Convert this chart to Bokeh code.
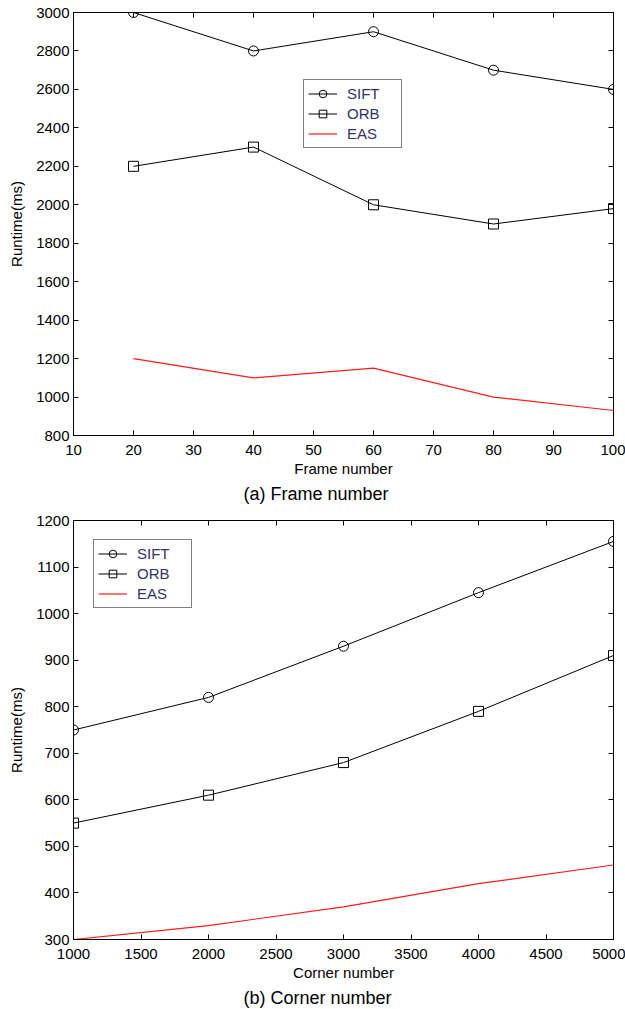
from bokeh.plotting import figure
from bokeh.layouts import column
from bokeh.models import LinearAxis, SingleIntervalTicker, Title, Range1d, Legend, LegendItem
from bokeh.embed import file_html
from bokeh.resources import INLINE

# --- data: (a) Frame number ---
frames = [20, 40, 60, 80, 100]
sift_a = [3000, 2800, 2900, 2700, 2600]
orb_a = [2200, 2300, 2000, 1900, 1980]
eas_a = [1200, 1100, 1150, 1000, 930]

# --- data: (b) Corner number ---
corners = [1000, 2000, 3000, 4000, 5000]
sift_b = [750, 820, 930, 1045, 1155]
orb_b = [550, 610, 680, 790, 910]
eas_b = [300, 330, 370, 420, 460]

FONT = "Liberation Sans"


def style_axis(ax, show_labels=True):
    ax.major_tick_in = 5
    ax.major_tick_out = 0
    ax.minor_tick_in = 0
    ax.minor_tick_out = 0
    ax.axis_line_color = "black"
    ax.major_tick_line_color = "black"
    ax.major_label_text_font = FONT
    ax.axis_label_text_font = FONT
    ax.axis_label_text_font_style = "normal"
    ax.axis_label_text_font_size = "15px"
    ax.axis_label_text_color = "black"
    if show_labels:
        ax.major_label_text_color = "black"
        ax.major_label_text_font_size = "15px"
    else:
        ax.major_label_text_color = None
        ax.major_label_text_alpha = 0
        ax.major_label_text_font_size = "1px"
        ax.major_label_standoff = 0


def make_panel(xs, s, o, e, xr, yr, xint, yint, xlabel, caption, height, top_border,
               legend_loc):
    p = figure(width=625, height=height, output_backend="svg", toolbar_location=None,
               x_range=Range1d(*xr), y_range=Range1d(*yr),
               min_border_left=73, min_border_right=12, min_border_top=top_border,
               min_border_bottom=10)
    p.xgrid.visible = False
    p.ygrid.visible = False
    p.outline_line_color = "black"
    p.background_fill_color = "white"
    p.border_fill_color = "white"

    p.xaxis.ticker = SingleIntervalTicker(interval=xint)
    p.yaxis.ticker = SingleIntervalTicker(interval=yint)
    p.xaxis.axis_label = xlabel
    p.yaxis.axis_label = "Runtime(ms)"
    style_axis(p.xaxis[0])
    style_axis(p.yaxis[0])
    p.xaxis.axis_label_standoff = 2
    p.yaxis.axis_label_standoff = 8
    p.xaxis.major_label_standoff = 9
    p.yaxis.major_label_standoff = 4

    top_ax = LinearAxis(ticker=SingleIntervalTicker(interval=xint))
    style_axis(top_ax, False)
    p.add_layout(top_ax, "above")
    right_ax = LinearAxis(ticker=SingleIntervalTicker(interval=yint))
    style_axis(right_ax, False)
    p.add_layout(right_ax, "right")

    l1 = p.line(xs, s, line_color="black", line_width=1)
    m1 = p.scatter(xs, s, marker="circle", size=10, fill_color=None, line_color="black")
    l2 = p.line(xs, o, line_color="black", line_width=1)
    m2 = p.scatter(xs, o, marker="square", size=10, fill_color=None, line_color="black")
    l3 = p.line(xs, e, line_color="#ff1a1a", line_width=1.2)

    legend = Legend(items=[LegendItem(label="SIFT", renderers=[l1, m1]),
                           LegendItem(label="ORB", renderers=[l2, m2]),
                           LegendItem(label="EAS", renderers=[l3])],
                    location=legend_loc)
    legend.border_line_color = "black"
    legend.border_line_width = 1
    legend.background_fill_color = "white"
    legend.background_fill_alpha = 1
    legend.label_text_font = FONT
    legend.label_text_font_size = "15px"
    legend.label_text_color = "#333366"
    legend.glyph_width = 29
    legend.glyph_height = 19
    legend.label_height = 19
    legend.label_width = 50
    legend.spacing = 1
    legend.padding = 4
    legend.margin = 0
    legend.label_standoff = 10
    p.add_layout(legend, "center")

    cap = Title(text=caption, align="left", text_font=FONT, text_font_size="18px",
                text_font_style="normal", text_color="black", standoff=4, offset=170)
    p.add_layout(cap, "below")
    return p


pa = make_panel(frames, sift_a, orb_a, eas_a, (10, 100), (800, 3000), 10, 200,
                "Frame number", "(a) Frame number", 505, 12, (230, 287))
pb = make_panel(corners, sift_b, orb_b, eas_b, (1000, 5000), (300, 1200), 500, 100,
                "Corner number", "(b) Corner number", 504, 15, (20, 331))

layout = column(pa, pb, spacing=0)
open("out.html", "w").write(file_html(layout, INLINE))
